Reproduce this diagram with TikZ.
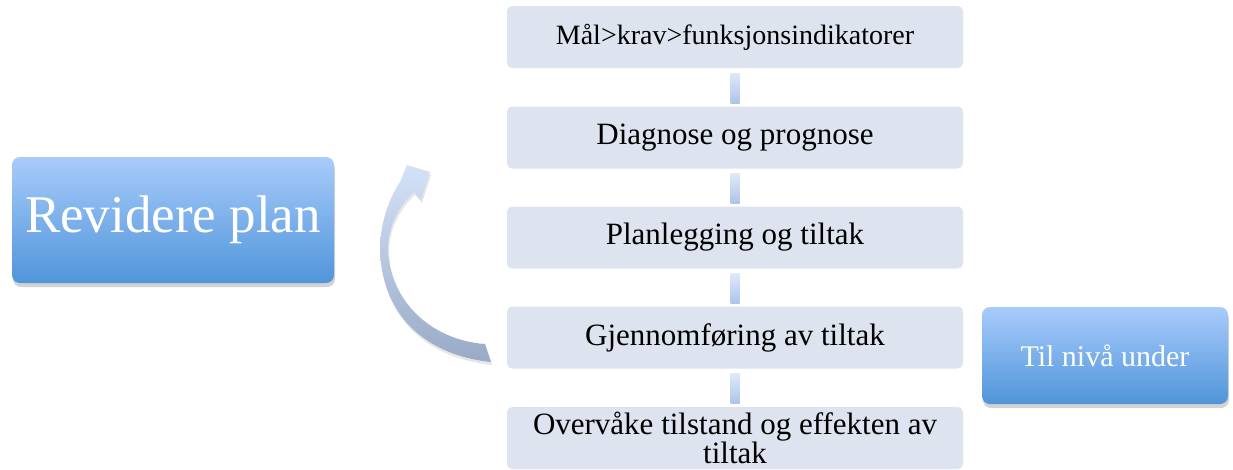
\documentclass[tikz,border=0pt]{standalone}
\usepackage{fontspec}
\setmainfont{Liberation Serif}
\usetikzlibrary{positioning, calc, shadows}
\definecolor{stepgray}{RGB}{221,227,239}
\definecolor{planlight}{RGB}{168,203,251}
\definecolor{plandark}{RGB}{80,149,218}
\definecolor{barlight}{RGB}{222,232,248}
\definecolor{bardark}{RGB}{172,196,234}
\definecolor{looplight}{RGB}{212,226,248}
\definecolor{loopdark}{RGB}{152,170,198}

\begin{document}
\begin{tikzpicture}[x=1pt, y=-1pt,
    stepbox/.style={fill=stepgray, rounded corners=5pt, minimum width=456pt, minimum height=62pt,
      inner sep=0pt, align=center, font=\fontsize{31}{27}\selectfont},
    planbox/.style={top color=planlight, bottom color=plandark, rounded corners=8pt, text=white,
      inner sep=0pt, drop shadow={opacity=0.35, shadow xshift=1pt, shadow yshift=-4pt}},
    stepbar/.style={top color=barlight, bottom color=bardark}]
  \useasboundingbox (0,0) rectangle (1233,469);

  % steps
  \node[stepbox, font=\fontsize{28}{27}\selectfont] (maal) at (735,37) {Mål>krav>funksjonsindikatorer};
  \node[stepbox] (diag) at (735,137.5) {Diagnose og prognose};
  \node[stepbox] (plan) at (735,237.5) {Planlegging og tiltak};
  \node[stepbox] (gjen) at (735,337.5) {Gjennomføring av tiltak};
  \node[stepbox] (overv) at (735,438) {Overvåke tilstand og effekten av\\tiltak};

  \foreach \a/\b in {maal/diag, diag/plan, plan/gjen, gjen/overv} {
    \shade[stepbar] ($(\a.south)+(-4.5,5)$) rectangle ($(\b.north)+(4.5,-3)$);
  }

  % side boxes
  \node[planbox, minimum width=322pt, minimum height=126pt, font=\fontsize{53}{56}\selectfont]
    (revid) at (173,220) {Revidere plan};
  \node[planbox, minimum width=246pt, minimum height=97pt, font=\fontsize{30}{34}\selectfont]
    (under) at (1105,355.5) {Til nivå under};

  % loop arrow
  \shade[top color=looplight, bottom color=loopdark,
      drop shadow={opacity=0.2, shadow xshift=1pt, shadow yshift=-3pt}]
    (485,344) .. controls (430,340) and (390,300) .. (388,250)
    .. controls (388,225) and (400,205) .. (414,192) -- (421,200) -- (430,172) -- (407,165) -- (400,182)
    .. controls (388,200) and (380,225) .. (380,250)
    .. controls (382,315) and (425,355) .. (491,362) -- cycle;
\end{tikzpicture}
\end{document}
